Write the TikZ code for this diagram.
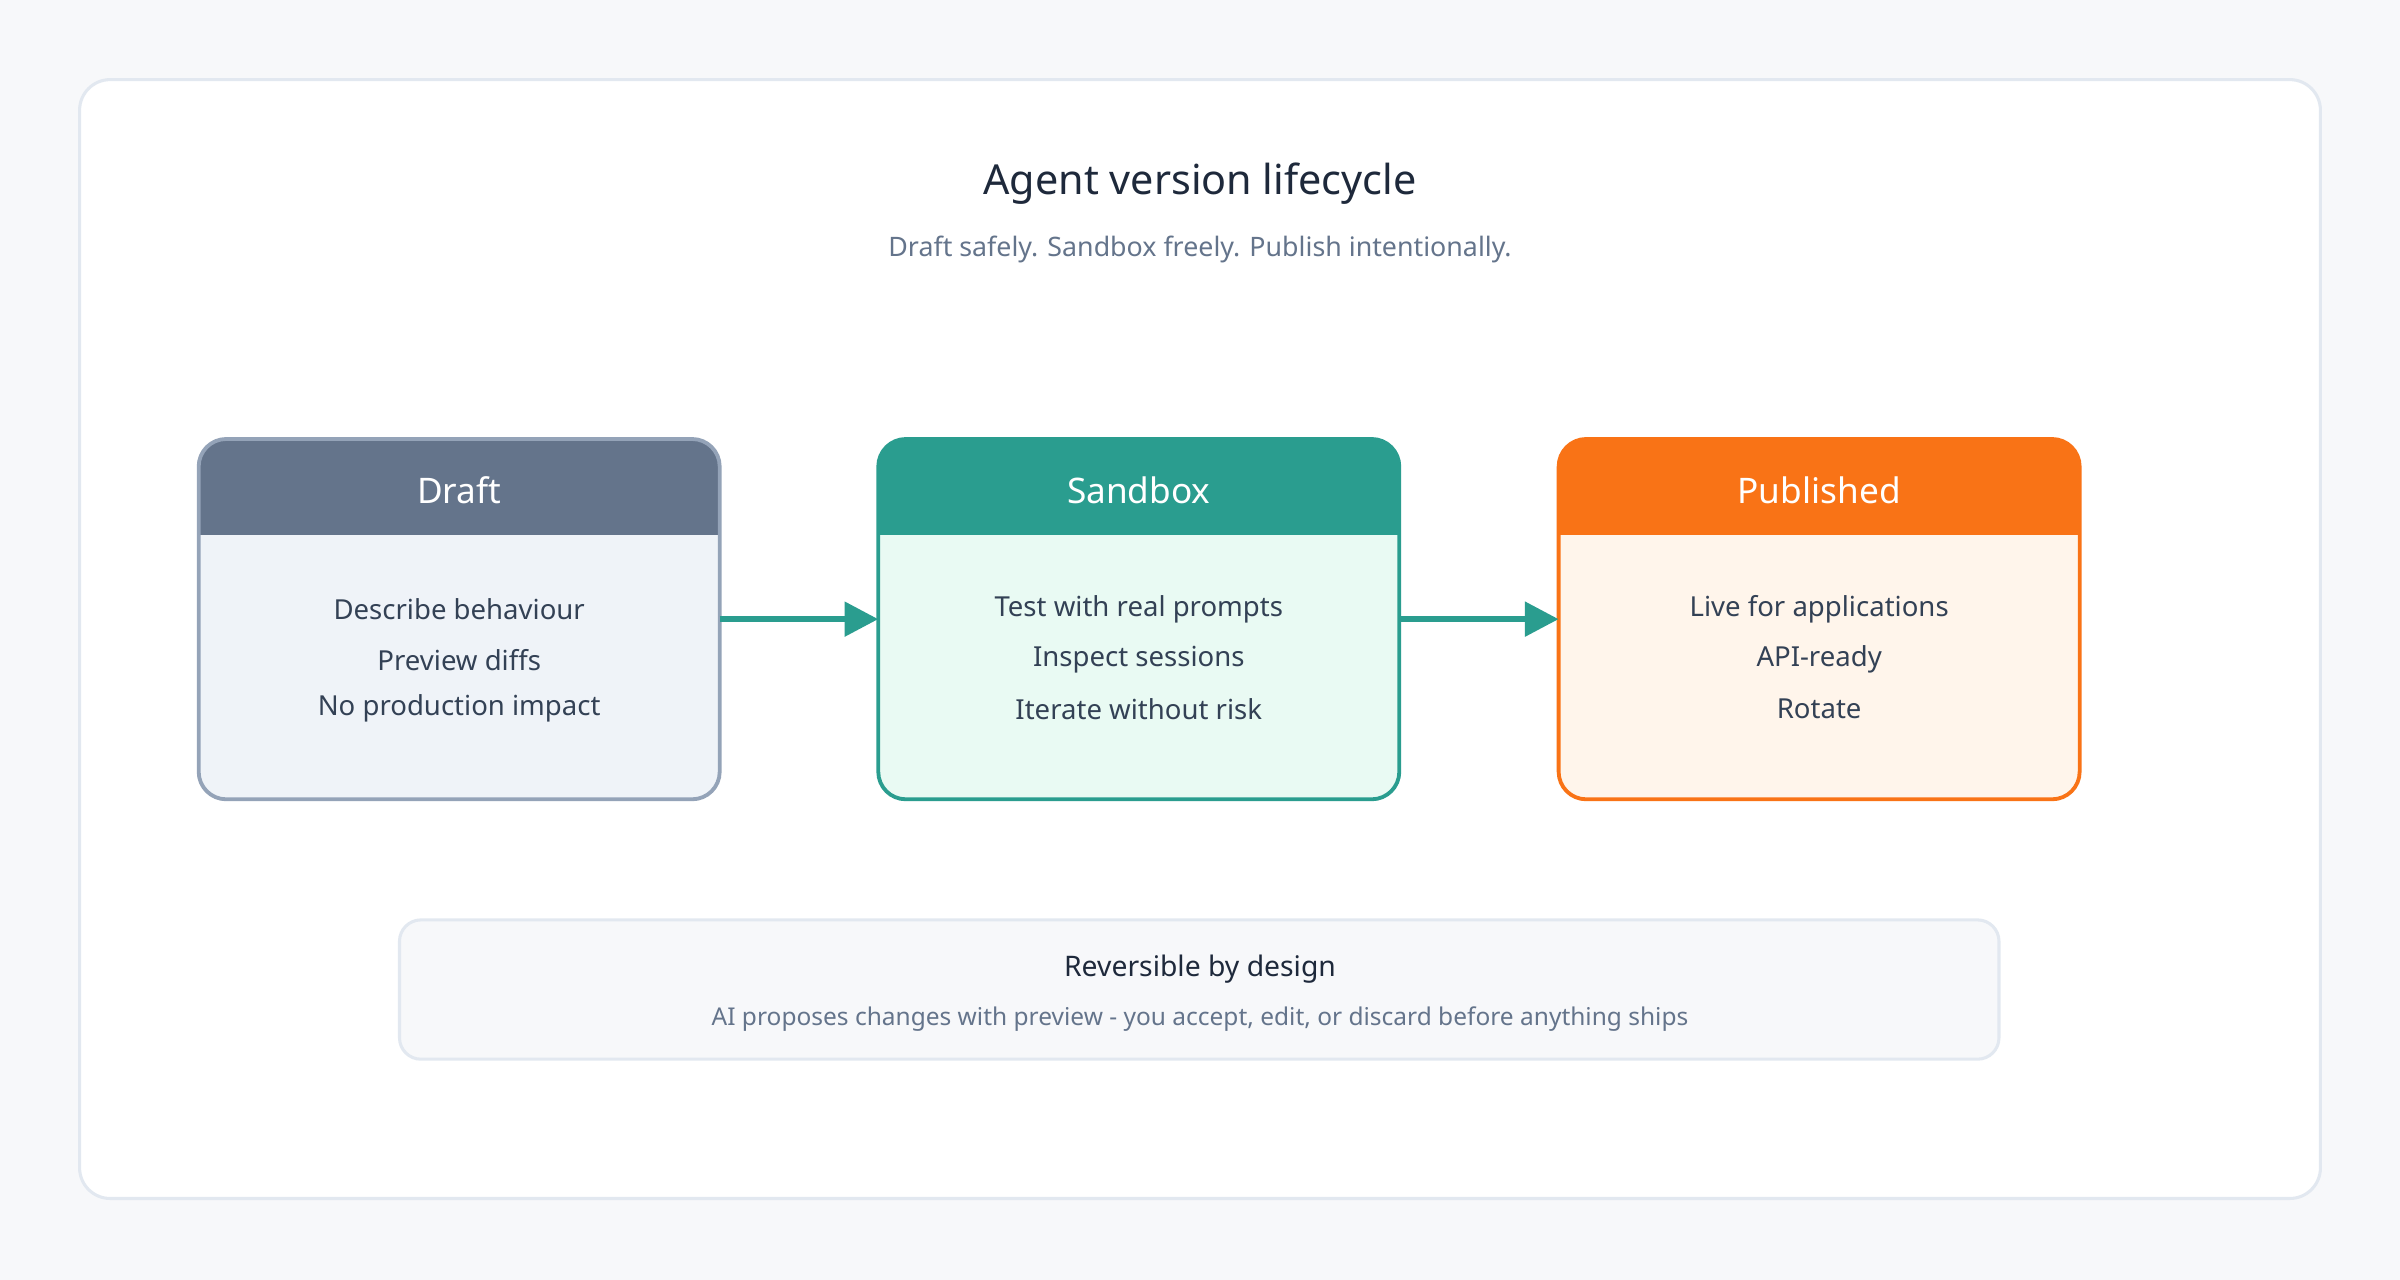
\documentclass[tikz,border=0pt]{standalone}
\usepackage{fontspec}
\setmainfont{Noto Sans}
\usetikzlibrary{arrows.meta}
\definecolor{bg}{HTML}{F7F8FA}
\definecolor{cardb}{HTML}{E2E8F0}
\definecolor{ttl}{HTML}{1E293B}
\definecolor{sub}{HTML}{64748B}
\definecolor{body}{HTML}{334155}
\definecolor{dH}{HTML}{64748B}\definecolor{dB}{HTML}{EFF3F8}\definecolor{dL}{HTML}{94A3B8}
\definecolor{sH}{HTML}{2A9D8F}\definecolor{sB}{HTML}{E9FAF3}\definecolor{sL}{HTML}{2A9D8F}
\definecolor{pH}{HTML}{F97316}\definecolor{pB}{HTML}{FFF5EB}\definecolor{pL}{HTML}{F97316}
\begin{document}
\begin{tikzpicture}[x=1pt,y=-1pt,
  box/.style={draw=none,minimum width=340pt,minimum height=235pt,inner sep=0pt},
  line/.style={font=\fontsize{18}{22}\selectfont,text=body},
  hd/.style={font=\fontsize{23}{28}\selectfont\bfseries,text=white},
  arr/.style={draw=sH,line width=4pt,-{Triangle[length=22pt,width=22pt]}}]
\fill[bg] (0,0) rectangle (1568,836);
\useasboundingbox (0,0) rectangle (1568,836);
\draw[cardb,fill=white,line width=2pt,rounded corners=20pt] (52,52) rectangle (1516,783);
\node[font=\fontsize{27}{32}\selectfont\bfseries,text=ttl] (title) at (784,120) {Agent version lifecycle};
\node[font=\fontsize{17.5}{21}\selectfont,text=sub] (subt) at (784,163) {Draft safely. Sandbox freely. Publish intentionally.};
\foreach \n/\cx/\H/\B/\L/\t/\a/\b/\c in {draft/300/dH/dB/dL/Draft/Describe behaviour/Preview diffs/No production impact,
  sandbox/744/sH/sB/sL/Sandbox/Test with real prompts/Inspect sessions/Iterate without risk,
  published/1188.5/pH/pB/pL/Published/Live for applications/API-ready/Rotate / revoke keys}{
  \node[box] (\n) at (\cx,404.5) {};
  \begin{scope}
    \clip[rounded corners=18pt] (\n.north west) rectangle (\n.south east);
    \fill[\B] (\n.north west) rectangle (\n.south east);
    \fill[\H] (\n.north west) rectangle ([yshift=-63pt]\n.north east);
  \end{scope}
  \draw[\L,line width=2.5pt,rounded corners=18pt] (\n.north west) rectangle (\n.south east);
  \node[hd] (\n-h) at (\cx,320) {\t};
  \node[line] (\n-1) at (\cx,398) {\a};
  \node[line] (\n-2) at (\cx,431) {\b};
  \node[line] (\n-3) at (\cx,463) {\c};
}
\draw[arr] (draft.east) -- (sandbox.west);
\draw[arr] (sandbox.east) -- (published.west);
\node[draw=cardb,fill=bg,line width=2pt,rounded corners=14pt,minimum width=1045pt,minimum height=91pt] (rev) at (783.5,646.5) {};
\node[font=\fontsize{18.5}{22}\selectfont\bfseries,text=ttl] (revt) at (784,633) {Reversible by design};
\node[font=\fontsize{16}{20}\selectfont,text=sub] (revs) at (784,666) {AI proposes changes with preview - you accept, edit, or discard before anything ships};
\end{tikzpicture}
\end{document}
